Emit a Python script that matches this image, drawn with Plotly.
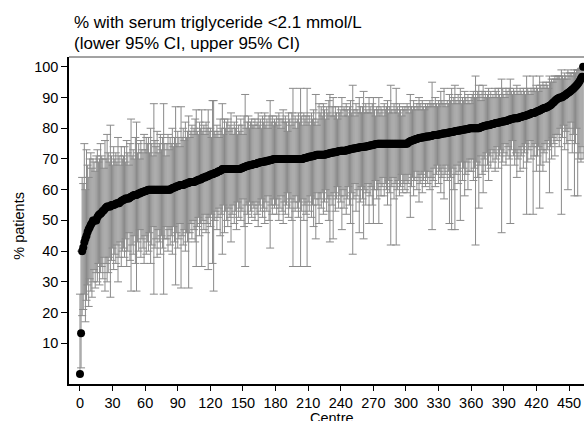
import plotly.graph_objects as go

# % of patients per centre (sorted), with lower / upper 95% CI
pct = [
    0, 13.3, 40.0, 41.2, 42.9, 44.0, 45.0, 46.2, 47.1, 47.8, 48.6, 49.2, 50.0, 50.0, 50.0, 50.0, 51.0, 51.6, 52.0, 52.2,
    52.6, 53.1, 53.3, 53.8, 54.2, 54.5, 54.5, 54.5, 54.5, 55.0, 55.0, 55.0, 55.2, 55.4, 55.6, 55.6, 55.6, 56.0, 56.3, 56.5,
    56.7, 56.8, 57.1, 57.1, 57.1, 57.1, 57.5, 57.7, 57.9, 58.1, 58.3, 58.3, 58.3, 58.5, 58.8, 58.8, 59.1, 59.1, 59.3, 59.4,
    59.5, 59.7, 59.8, 60.0, 60.0, 60.0, 60.0, 60.0, 60.0, 60.0, 60.0, 60.0, 60.0, 60.0, 60.0, 60.0, 60.0, 60.0, 60.0, 60.0,
    60.0, 60.0, 60.0, 60.0, 60.3, 60.5, 60.6, 60.7, 60.9, 61.1, 61.1, 61.3, 61.5, 61.5, 61.5, 61.5, 61.7, 61.9, 62.0, 62.1,
    62.2, 62.5, 62.5, 62.5, 62.5, 62.5, 62.7, 62.9, 63.0, 63.2, 63.3, 63.3, 63.6, 63.9, 64.0, 64.0, 64.3, 64.3, 64.5, 64.7,
    64.9, 65.0, 65.0, 65.2, 65.4, 65.5, 65.6, 65.9, 66.0, 66.2, 66.3, 66.7, 66.7, 66.7, 66.7, 66.7, 66.7, 66.7, 66.7, 66.7,
    66.7, 66.7, 66.7, 66.7, 66.7, 66.7, 66.7, 66.7, 66.9, 67.0, 67.2, 67.3, 67.5, 67.6, 67.7, 67.9, 68.0, 68.0, 68.1, 68.2,
    68.3, 68.4, 68.4, 68.6, 68.8, 68.8, 68.9, 69.0, 69.0, 69.2, 69.2, 69.2, 69.4, 69.4, 69.5, 69.6, 69.7, 69.8, 69.9, 70.0,
    70.0, 70.0, 70.0, 70.0, 70.0, 70.0, 70.0, 70.0, 70.0, 70.0, 70.0, 70.0, 70.0, 70.0, 70.0, 70.0, 70.0, 70.0, 70.0, 70.0,
    70.0, 70.0, 70.0, 70.0, 70.0, 70.0, 70.2, 70.3, 70.4, 70.5, 70.6, 70.7, 70.8, 70.8, 70.9, 71.0, 71.1, 71.2, 71.4, 71.4,
    71.4, 71.4, 71.4, 71.4, 71.4, 71.4, 71.5, 71.6, 71.7, 71.8, 71.9, 72.0, 72.0, 72.1, 72.2, 72.2, 72.3, 72.4, 72.5, 72.6,
    72.7, 72.7, 72.7, 72.7, 72.7, 72.8, 72.9, 73.0, 73.1, 73.2, 73.3, 73.3, 73.4, 73.5, 73.5, 73.6, 73.7, 73.7, 73.8, 73.9,
    73.9, 74.0, 74.0, 74.1, 74.1, 74.2, 74.3, 74.4, 74.5, 74.5, 74.6, 74.7, 74.8, 74.9, 75.0, 75.0, 75.0, 75.0, 75.0, 75.0,
    75.0, 75.0, 75.0, 75.0, 75.0, 75.0, 75.0, 75.0, 75.0, 75.0, 75.0, 75.0, 75.0, 75.0, 75.0, 75.0, 75.0, 75.0, 75.0, 75.0,
    75.0, 75.0, 75.3, 75.6, 75.8, 75.9, 76.0, 76.2, 76.3, 76.5, 76.5, 76.7, 76.8, 76.9, 76.9, 77.0, 77.1, 77.1, 77.2, 77.3,
    77.3, 77.3, 77.4, 77.5, 77.6, 77.7, 77.8, 77.8, 77.8, 77.9, 78.0, 78.0, 78.1, 78.2, 78.3, 78.3, 78.4, 78.4, 78.5, 78.6,
    78.6, 78.7, 78.8, 78.9, 78.9, 79.0, 79.1, 79.2, 79.2, 79.3, 79.3, 79.4, 79.5, 79.5, 79.6, 79.7, 79.7, 79.8, 79.9, 80.0,
    80.0, 80.0, 80.0, 80.0, 80.0, 80.0, 80.0, 80.0, 80.2, 80.3, 80.5, 80.6, 80.7, 80.8, 80.9, 81.0, 81.0, 81.1, 81.2, 81.3,
    81.4, 81.5, 81.6, 81.7, 81.8, 81.8, 81.9, 82.0, 82.1, 82.2, 82.2, 82.3, 82.4, 82.5, 82.6, 82.7, 82.9, 83.0, 83.1, 83.2,
    83.3, 83.3, 83.3, 83.3, 83.5, 83.6, 83.7, 83.8, 83.9, 84.0, 84.1, 84.2, 84.4, 84.5, 84.6, 84.8, 85.0, 85.0, 85.0, 85.2,
    85.4, 85.5, 85.7, 85.8, 86.0, 86.2, 86.4, 86.5, 86.7, 86.7, 86.9, 87.1, 87.3, 87.5, 87.8, 88.2, 88.5, 88.9, 89.2, 89.5,
    89.7, 89.9, 90.0, 90.0, 90.2, 90.5, 90.7, 90.9, 91.2, 91.5, 91.7, 92.0, 92.3, 92.6, 92.9, 93.3, 93.6, 94.0, 94.4, 94.9,
    95.5, 96.2, 96.8, 100.0,
]

lower_ci = [
    0, 2, 19, 21, 26, 17, 24, 29, 22, 31, 27, 25, 30, 34, 28, 33, 30, 36, 29, 33,
    35, 31, 38, 27, 36, 30, 33, 38, 25, 37, 41, 34, 39, 36, 42, 30, 38, 43, 35, 40,
    41, 38, 44, 35, 40, 46, 37, 27, 42, 39, 45, 36, 27, 43, 40, 47, 38, 44, 41, 36,
    45, 39, 43, 40, 46, 36, 42, 48, 26, 41, 44, 38, 47, 43, 39, 45, 41, 26, 44, 48,
    44, 40, 47, 42, 45, 39, 48, 43, 29, 46, 41, 44, 49, 28, 45, 42, 47, 40, 46, 43,
    28, 46, 49, 44, 50, 47, 43, 35, 48, 51, 45, 49, 35, 50, 47, 52, 46, 49, 34, 51,
    48, 52, 36, 27, 50, 53, 47, 51, 54, 45, 52, 39, 55, 46, 53, 50, 48, 54, 51, 43,
    52, 55, 49, 53, 47, 56, 51, 54, 50, 53, 57, 48, 35, 55, 52, 49, 56, 53, 51, 55,
    54, 50, 56, 52, 48, 55, 53, 57, 51, 54, 49, 56, 53, 58, 50, 41, 55, 52, 57, 54,
    55, 52, 57, 50, 54, 58, 53, 49, 56, 52, 55, 59, 51, 54, 57, 50, 35, 56, 53, 58,
    54, 51, 56, 35, 53, 57, 50, 55, 52, 35, 56, 53, 58, 51, 55, 48, 57, 44, 59, 55,
    49, 57, 54, 59, 52, 56, 60, 53, 57, 50, 43, 58, 55, 44, 59, 53, 57, 61, 54, 58,
    56, 47, 60, 54, 58, 52, 57, 61, 55, 49, 59, 39, 57, 62, 53, 58, 60, 46, 56, 61,
    57, 44, 60, 55, 59, 62, 49, 58, 61, 55, 49, 60, 63, 57, 60, 49, 62, 58, 61, 64,
    58, 62, 60, 55, 63, 59, 42, 61, 64, 57, 62, 42, 60, 63, 58, 61, 65, 59, 62, 60,
    63, 59, 62, 65, 51, 61, 64, 58, 63, 66, 60, 64, 56, 62, 65, 59, 63, 66, 61, 64,
    62, 66, 60, 64, 47, 63, 67, 61, 65, 68, 62, 66, 59, 64, 67, 57, 65, 68, 63, 66,
    49, 64, 47, 67, 60, 47, 65, 68, 62, 66, 50, 69, 63, 67, 58, 65, 69, 60, 66, 70,
    66, 70, 63, 67, 42, 69, 64, 54, 68, 71, 65, 59, 70, 66, 72, 68, 63, 71, 67, 73,
    69, 72, 66, 70, 74, 67, 71, 73, 46, 69, 72, 75, 68, 71, 74, 70, 49, 73, 76, 71,
    68, 72, 64, 70, 73, 66, 71, 74, 67, 72, 75, 52, 69, 73, 76, 70, 74, 52, 71, 75,
    66, 71, 74, 54, 68, 73, 66, 72, 75, 69, 73, 76, 59, 74, 70, 77, 75, 71, 78, 76,
    78, 74, 80, 52, 77, 81, 73, 79, 75, 60, 80, 76, 82, 72, 78, 58, 75, 80, 58, 70,
    72, 69, 74, 70,
]

upper_ci = [
    26, 40, 64, 62, 75, 60, 73, 68, 64, 70, 72, 67, 70, 69, 66, 71, 73, 69, 70, 75,
    71, 70, 67, 76, 70, 78, 72, 69, 81, 71, 68, 74, 70, 72, 69, 77, 71, 68, 74, 70,
    71, 74, 69, 76, 72, 68, 75, 83, 71, 73, 70, 77, 82, 72, 75, 70, 76, 73, 72, 78,
    73, 77, 75, 77, 72, 80, 75, 71, 88, 76, 74, 79, 72, 75, 78, 73, 77, 88, 75, 71,
    75, 78, 73, 77, 75, 80, 74, 77, 87, 75, 79, 77, 74, 87, 77, 80, 76, 82, 77, 79,
    84, 77, 79, 81, 78, 80, 83, 86, 79, 78, 82, 80, 86, 79, 81, 78, 82, 80, 86, 79,
    80, 77, 89, 89, 79, 78, 81, 79, 77, 83, 80, 88, 78, 83, 80, 82, 83, 79, 81, 85,
    80, 78, 82, 80, 84, 78, 81, 79, 83, 81, 78, 84, 91, 80, 82, 84, 80, 82, 83, 81,
    81, 83, 80, 82, 85, 81, 83, 80, 84, 82, 85, 81, 83, 80, 84, 89, 82, 84, 81, 83,
    82, 84, 81, 85, 83, 80, 83, 86, 82, 84, 82, 79, 85, 83, 81, 85, 93, 82, 84, 80,
    83, 85, 82, 93, 84, 81, 85, 83, 84, 93, 82, 84, 81, 85, 83, 86, 82, 91, 81, 83,
    88, 85, 87, 84, 88, 86, 83, 87, 85, 89, 91, 84, 87, 90, 84, 87, 85, 83, 87, 85,
    86, 90, 84, 87, 86, 88, 86, 84, 87, 89, 85, 94, 86, 84, 88, 86, 85, 90, 87, 85,
    87, 92, 85, 88, 86, 85, 90, 87, 85, 88, 90, 86, 84, 87, 86, 90, 85, 87, 86, 84,
    88, 86, 87, 89, 85, 87, 94, 86, 85, 88, 86, 93, 87, 85, 88, 86, 84, 87, 86, 87,
    86, 88, 87, 85, 91, 87, 86, 89, 87, 86, 88, 87, 90, 88, 86, 89, 87, 86, 88, 87,
    88, 87, 89, 88, 95, 88, 87, 90, 88, 87, 89, 88, 92, 89, 88, 93, 88, 87, 89, 88,
    91, 89, 93, 88, 90, 94, 89, 88, 91, 89, 93, 88, 90, 89, 92, 90, 88, 91, 89, 88,
    90, 91, 92, 90, 97, 90, 92, 94, 91, 89, 92, 94, 90, 92, 90, 91, 93, 90, 92, 90,
    91, 90, 93, 92, 90, 93, 91, 90, 96, 93, 91, 90, 93, 92, 91, 93, 96, 92, 91, 93,
    92, 91, 94, 92, 91, 93, 92, 91, 93, 92, 91, 97, 93, 92, 91, 93, 92, 97, 93, 92,
    94, 93, 92, 97, 94, 93, 95, 94, 93, 95, 94, 93, 97, 95, 96, 95, 96, 97, 96, 97,
    97, 97, 96, 99, 97, 96, 98, 97, 96, 99, 97, 98, 98, 97, 98, 99, 98, 99, 99, 99,
    99, 99.5, 99.6, 100,
]

centre = list(range(len(pct)))
x_ticks = list(range(0, 451, 30))
y_ticks = list(range(10, 101, 10))

err_plus = [u - p for u, p in zip(upper_ci, pct)]
err_minus = [p - l for p, l in zip(pct, lower_ci)]

FONT = "Liberation Sans, Arial, Helvetica, sans-serif"
GREY = "rgb(138,138,138)"

fig = go.Figure()
fig.add_trace(go.Scatter(
    x=centre, y=pct, mode="markers",
    marker=dict(size=1, color="rgba(0,0,0,0)"),
    error_y=dict(type="data", symmetric=False, array=err_plus, arrayminus=err_minus,
                 color=GREY, thickness=1, width=4),
    hoverinfo="skip", showlegend=False,
))
fig.add_trace(go.Scatter(
    x=centre, y=pct, mode="markers",
    marker=dict(size=8, color="black", line=dict(width=0)),
    showlegend=False,
))

fig.update_layout(
    width=584, height=421,
    margin=dict(l=69, r=0, t=57, b=37),
    paper_bgcolor="white", plot_bgcolor="white",
    font=dict(family=FONT, color="black", size=14.5),
    xaxis=dict(range=[-10.1, 463.8], tickvals=x_ticks, ticks="outside", ticklen=5,
               tickwidth=1.2, tickcolor="black", showline=True, linecolor="black",
               linewidth=1.5, showgrid=False, zeroline=False,
               tickfont=dict(size=14.5)),
    yaxis=dict(range=[-3.25, 103.2], tickvals=y_ticks, ticks="outside", ticklen=6,
               tickwidth=1.2, tickcolor="black", showline=True, linecolor="black",
               linewidth=1.5, showgrid=False, zeroline=False,
               tickfont=dict(size=14.5)),
    shapes=[dict(type="line", xref="paper", yref="paper", x0=0, x1=1, y0=1, y1=1,
                 line=dict(color="rgb(70,70,70)", width=1))],
    annotations=[
        dict(text="% with serum triglyceride <2.1 mmol/L", xref="paper", yref="paper",
             x=0.006, y=1.105, xanchor="left", yanchor="middle", showarrow=False,
             font=dict(size=17, family=FONT)),
        dict(text="(lower 95% CI, upper 95% CI)", xref="paper", yref="paper",
             x=0.006, y=1.042, xanchor="left", yanchor="middle", showarrow=False,
             font=dict(size=17, family=FONT)),
        dict(text="% patients", xref="paper", yref="paper", x=-0.097, y=0.484,
             xanchor="center", yanchor="middle", textangle=-90, showarrow=False,
             font=dict(size=14.5, family=FONT)),
        dict(text="Centre", xref="paper", yref="paper", x=0.5107, y=-0.104,
             xanchor="center", yanchor="middle", showarrow=False,
             font=dict(size=14.5, family=FONT)),
    ],
)

fig.write_html("out.html")
